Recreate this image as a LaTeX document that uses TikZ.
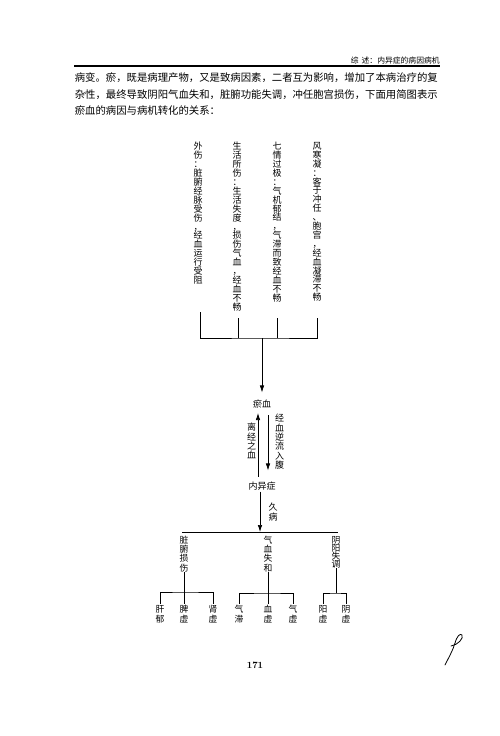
\documentclass[tikz,border=0pt]{standalone}
\usepackage{fontspec}
\newfontfamily\cjk{Noto Sans CJK SC}
\usetikzlibrary{arrows.meta}
\newcommand\tightlines{\lineskiplimit=-\maxdimen\relax}
\begin{document}
\begin{tikzpicture}[x=1pt,y=-1pt, line width=0.7pt,
  vcol/.style={font=\cjk\fontsize{9}{8.9}\selectfont\tightlines, align=center, inner sep=0pt, anchor=north},
  vlab/.style={font=\cjk\fontsize{9}{9.3}\selectfont\tightlines, align=center, inner sep=0pt, anchor=north},
  sub/.style={font=\cjk\fontsize{8.8}{9.1}\selectfont\tightlines, align=center, inner sep=0pt, anchor=north},
  leaf/.style={font=\cjk\fontsize{8.8}{10}\selectfont\tightlines, align=center, inner sep=1pt, anchor=north},
  lbl/.style={font=\cjk\fontsize{9}{9}\selectfont, inner sep=1pt},
  body/.style={font=\cjk\fontsize{10.37}{12}\selectfont, inner sep=0pt, anchor=west},
  arr/.style={-{Latex[length=7pt,width=4.5pt]}}]

\fill[white] (0,0) rectangle (500,736);
\useasboundingbox (0,0) rectangle (500,736);

% header
\node[font=\cjk\fontsize{7.8}{8}\selectfont, inner sep=0pt, anchor=east] (hdr) at (440,61) {综\hspace{3pt}述：内异症的病因病机};
\coordinate (r1) at (74,66);
\coordinate (r2) at (440,66);
\draw[line width=1.1pt] (r1) -- (r2);

% body text
\node[body] (p1) at (74.5,78) {病变。瘀，既是病理产物，又是致病因素，二者互为影响，增加了本病治疗的复};
\node[body] (p2) at (74.5,94.5) {杂性，最终导致阴阳气血失和，脏腑功能失调，冲任胞宫损伤，下面用简图表示};
\node[body] (p3) at (74.5,111) {瘀血的病因与病机转化的关系：};

% causes (vertical text)
\node[vcol] (c1) at (317,142) {风\\寒\\凝\\：\\客\\于\\冲\\任\\、\\胞\\宫\\，\\经\\血\\凝\\滞\\不\\畅};
\node[vcol] (c2) at (277,142) {七\\情\\过\\极\\：\\气\\机\\郁\\结\\，\\气\\滞\\而\\致\\经\\血\\不\\畅};
\node[vcol] (c3) at (237,142) {生\\活\\所\\伤\\：\\生\\活\\失\\度\\，\\损\\伤\\气\\血\\，\\经\\血\\不\\畅};
\node[vcol] (c4) at (198,142) {外\\伤\\：\\脏\\腑\\经\\脉\\受\\伤\\，\\经\\血\\运\\行\\受\\阻};

\coordinate (t1) at (317,318);
\coordinate (t2) at (277,318);
\coordinate (t3) at (238,318);
\coordinate (t4) at (200,312);
\coordinate (bj) at (262,338);
\draw (t4) |- (bj) -| (t1);
\draw (t3) -- (t3 |- bj);
\draw (t2) -- (t2 |- bj);

% middle
\node[lbl] (yu) at (262,404) {瘀血};
\node[lbl] (nei) at (262,486) {内异症};
\draw[arr, shorten >=6pt] (bj) -- (bj |- yu.north);

\draw[arr, shorten <=3.5pt, shorten >=3.5pt] ([xshift=-4pt]nei.north) -- ([xshift=-4pt]nei.north |- yu.south);
\draw[arr, shorten <=5.5pt, shorten >=10pt] ([xshift=6pt]yu.south) -- ([xshift=6pt]yu.south |- nei.north);
\node[vlab] (lb1) at (279.5,414) {经\\血\\逆\\流\\入\\腹};
\node[vlab] (lb2) at (251.5,423) {离\\经\\之\\血};

% long-term
\coordinate (bar2) at (260,532);
\draw[arr] (nei.south -| bar2) -- (bar2);
\node[vlab, font=\cjk\fontsize{9}{10}\selectfont\tightlines] (jb) at (273,503) {久\\病};
\coordinate (bl) at (182,532);
\coordinate (br) at (338,532);
\draw (bl) -- (br);

% second level
\node[sub] (zf) at (184,536) {脏\\腑\\损\\伤};
\node[sub] (qx) at (268,536) {气\\血\\失\\和};
\node[sub, font=\cjk\fontsize{8.8}{8}\selectfont\tightlines] (yy) at (336,536) {阴\\阳\\失\\调};

% leaves
\node[leaf] (gy) at (160,604) {肝\\郁};
\node[leaf] (px) at (184,604) {脾\\虚};
\node[leaf] (sx) at (213,604) {肾\\虚};
\node[leaf] (qz) at (239,604) {气\\滞};
\node[leaf] (xx) at (268,604) {血\\虚};
\node[leaf] (qxu) at (293,604) {气\\虚};
\node[leaf] (yangx) at (323,604) {阳\\虚};
\node[leaf] (yinx) at (346,604) {阴\\虚};

\coordinate (zfj) at (184,592);
\coordinate (qxj) at (268,593);
\coordinate (yyj) at (336,593);
\draw (zf.south) -- (px.north);
\draw (gy.north) |- (zfj) -| (sx.north);
\draw (qx.south) -- (xx.north);
\draw (qz.north) |- (qxj) -| (qxu.north);
\draw (yy.south) -- (yyj);
\draw (yangx.north) |- (yyj) -| (yinx.north);

% page number and handwritten mark
\node[font=\fontsize{9.5}{10}\selectfont\bfseries, inner sep=0pt] (pg) at (255,665) {171};
\draw[line width=0.8pt, line cap=round] (445,665) .. controls (449,657) and (453,650) .. (455,643) .. controls (457,636) and (460,633) .. (462,635) .. controls (464,638) and (458,645) .. (451,646);
\end{tikzpicture}
\end{document}
